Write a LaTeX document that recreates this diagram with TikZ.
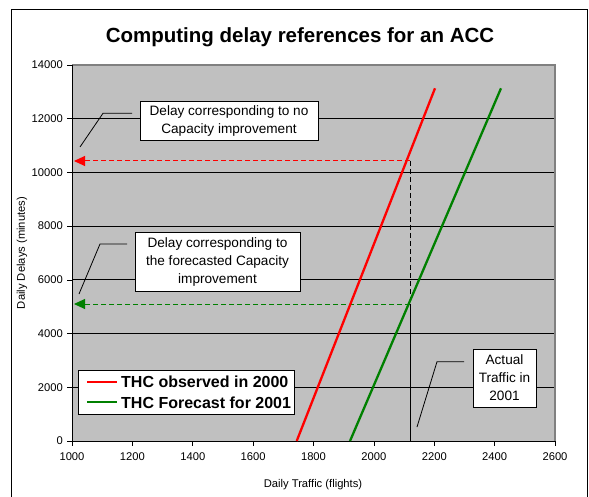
\documentclass[tikz,border=0pt]{standalone}
\usepackage{fontspec}
\setmainfont{Liberation Sans}
\usetikzlibrary{arrows.meta}
\definecolor{plotgray}{RGB}{192,192,192}
\definecolor{bordergray}{RGB}{128,128,128}
\definecolor{thcred}{RGB}{255,0,0}
\definecolor{thcgreen}{RGB}{0,128,0}
\begin{document}
\begin{tikzpicture}[x=1pt,y=-1pt,
  ticklab/.style={font=\fontsize{11.2}{13}\selectfont, inner sep=0pt},
  callout/.style={draw=black, fill=white, line width=0.8pt, align=center,
    font=\fontsize{13.6}{18}\selectfont, inner sep=0pt},
  leader/.style={draw=black, line width=0.8pt},
  gridline/.style={black, line width=0.9pt},
  curve/.style={line width=2.3pt},
  refline/.style={dash pattern=on 5pt off 3pt, line width=1pt},
  reftip/.style={-{Triangle[length=11pt,width=10pt]}},
  legtext/.style={font=\bfseries\fontsize{16}{20}\selectfont, inner sep=0pt, anchor=west}
]
\useasboundingbox (0,0) rectangle (589,497);
\draw[line width=1pt] (11.5,497) -- (11.5,10) -- (587.5,10) -- (587.5,497);
\node[font=\bfseries\fontsize{20.5}{24}\selectfont] (title) at (300,37) {Computing delay references for an ACC};
% plot area
\fill[plotgray] (72,65) rectangle (555,441);
\foreach \yy in {387.3,333.6,279.9,226.1,172.4,118.7}
  \draw[gridline] (72,\yy) -- (555,\yy);
\draw[bordergray, line width=1.5pt] (72,65) -- (555,65) -- (555,441);
\draw[black, line width=1pt] (72,65) -- (72,441) -- (555,441);
% y ticks and labels
\foreach \yy/\lab in {441/0,387.3/2000,333.6/4000,279.9/6000,226.1/8000,172.4/10000,118.7/12000,65/14000}{
  \draw[black, line width=0.8pt] (67,\yy) -- (72,\yy);
  \node[ticklab, anchor=east] (ylab\lab) at (63,\yy) {\lab};
}
% x ticks and labels
\foreach \xx/\lab in {72/1000,132.4/1200,192.8/1400,253.1/1600,313.5/1800,373.9/2000,434.3/2200,494.6/2400,555/2600}{
  \draw[black, line width=0.8pt] (\xx,441) -- (\xx,445.5);
  \node[ticklab] (xlab\lab) at (\xx,457) {\lab};
}
\node[ticklab] (xtitle) at (313,485) {Daily Traffic (flights)};
\node[ticklab, rotate=90] (ytitle) at (22,253) {Daily Delays (minutes)};
% reference construction
\coordinate (redtip) at (74,161);
\coordinate (redcorner) at (410,161);
\coordinate (greencorner) at (410,304);
\coordinate (greentip) at (74,304);
\coordinate (axisfoot) at (410,441);
\draw[thcred, refline, reftip] (redcorner) -- (redtip);
\draw[thcgreen, refline, reftip] (greencorner) -- (greentip);
\draw[black, refline] (redcorner) -- (greencorner);
\draw[black, line width=1pt] (greencorner) -- (axisfoot);
% curves
\coordinate (r0) at (296.7,441);
\coordinate (r1) at (435,88.3);
\coordinate (g0) at (350,441);
\coordinate (g1) at (501,88.3);
\draw[thcred, curve] (r0) -- (r1);
\draw[thcgreen, curve] (g0) -- (g1);
% callouts
\node[callout, minimum width=178, minimum height=39] (box1) at (229,120.5)
  {Delay corresponding to no\\Capacity improvement};
\node[callout, minimum width=165, minimum height=59] (box2) at (217.5,261.5)
  {Delay corresponding to\\the forecasted Capacity\\improvement};
\node[callout, minimum width=63, minimum height=58] (box3) at (504.5,378)
  {Actual\\Traffic in\\2001};
\coordinate (l1a) at (132,113.3);
\coordinate (l1b) at (103,113.3);
\coordinate (l1c) at (80,147);
\draw[leader] (l1a) -- (l1b) -- (l1c);
\coordinate (l2a) at (127,244);
\coordinate (l2b) at (100,244);
\coordinate (l2c) at (79,294);
\draw[leader] (l2a) -- (l2b) -- (l2c);
\coordinate (l3a) at (464,361.7);
\coordinate (l3b) at (437,361.7);
\coordinate (l3c) at (417,427);
\draw[leader] (l3a) -- (l3b) -- (l3c);
% legend
\node[draw=black, fill=white, line width=0.9pt, minimum width=216, minimum height=44, inner sep=0pt] (legend) at (186,392) {};
\coordinate (lr0) at (87,381.7);
\coordinate (lr1) at (117,381.7);
\coordinate (lg0) at (87,402.3);
\coordinate (lg1) at (117,402.3);
\draw[thcred, curve] (lr0) -- (lr1);
\draw[thcgreen, curve] (lg0) -- (lg1);
\node[legtext] (legred) at (121,381.7) {THC observed in 2000};
\node[legtext] (leggreen) at (121,402.3) {THC Forecast for 2001};
\end{tikzpicture}
\end{document}
